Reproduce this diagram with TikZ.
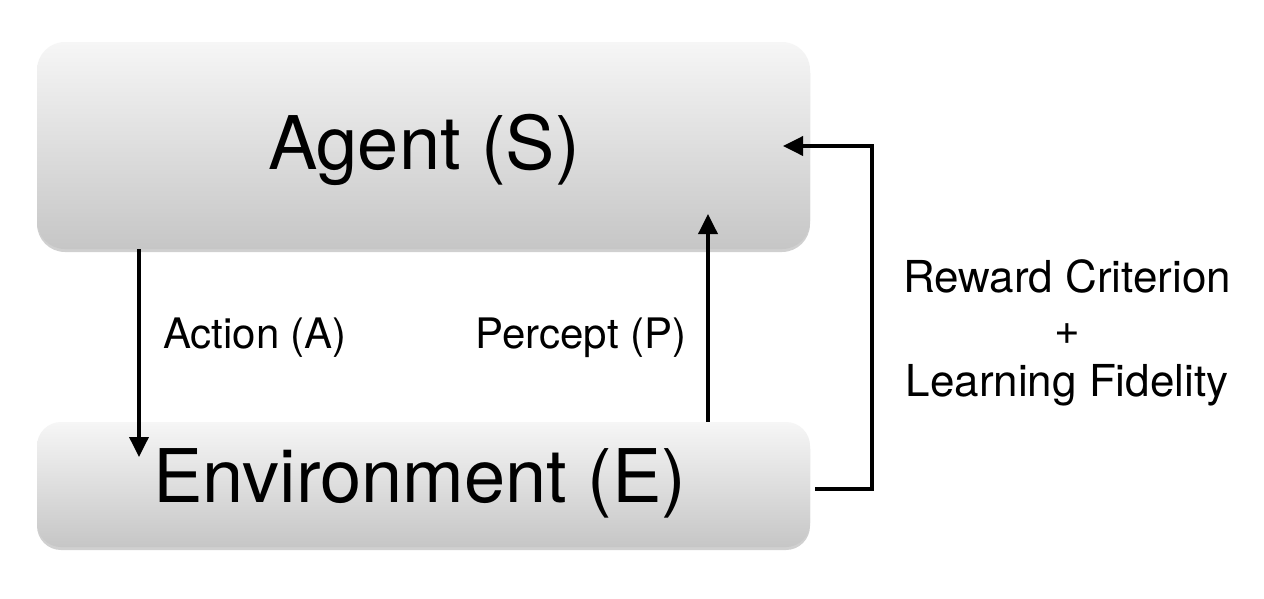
\documentclass[tikz,border=0pt]{standalone}
\usepackage{fontspec}
\setmainfont{TeX Gyre Heros}
\usetikzlibrary{arrows.meta,shadows}
\tikzset{
  box/.style={rounded corners=28pt, top color=boxtop, bottom color=boxbot, draw=none,
    drop shadow={shadow xshift=0pt, shadow yshift=-3pt, opacity=0.3, fill=black!60},
    inner sep=0pt, font=\fontsize{74}{74}\selectfont},
  arr/.style={line width=3.6pt, -{Triangle[length=20pt,width=19pt]}},
  lbl/.style={font=\fontsize{42}{52}\selectfont, inner sep=0pt},
}
\definecolor{boxtop}{HTML}{F6F6F6}
\definecolor{boxbot}{HTML}{C6C6C6}
\begin{document}
\begin{tikzpicture}[x=1pt,y=-1pt]
\useasboundingbox[fill=white] (0,0) rectangle (1264,598);
\node[box, minimum width=773pt, minimum height=207pt] (agent) at (423.5,145.5) {};
\node[box, rounded corners=24pt, minimum width=773pt, minimum height=125pt] (env) at (423.5,484.5) {};
\node[font=\fontsize{74}{74}\selectfont, inner sep=0pt] (agenttxt) at (424,150) {Agent (S)};
\node[font=\fontsize{74}{74}\selectfont, inner sep=0pt] (envtxt) at (420,483) {Environment (E)};
\coordinate (acttip) at (139,457);
\coordinate (pertip) at (708,214);
\coordinate (rwstart) at (815,489);
\coordinate (rwcorner) at (872,146);
\coordinate (rwtip) at (783,146);
\draw[arr] (agent.south -| acttip) -- (acttip);
\draw[arr] (env.north -| pertip) -- (pertip);
\draw[arr, rounded corners=0pt] (rwstart) -| (rwcorner) -- (rwtip);
\node[lbl] (actlbl) at (255,338) {Action (A)};
\node[lbl] (perlbl) at (581,338) {Percept (P)};
\node[lbl, font=\fontsize{44}{52}\selectfont, align=center] (rwlbl) at (1067,333) {Reward Criterion\\+\\Learning Fidelity};
\end{tikzpicture}
\end{document}
